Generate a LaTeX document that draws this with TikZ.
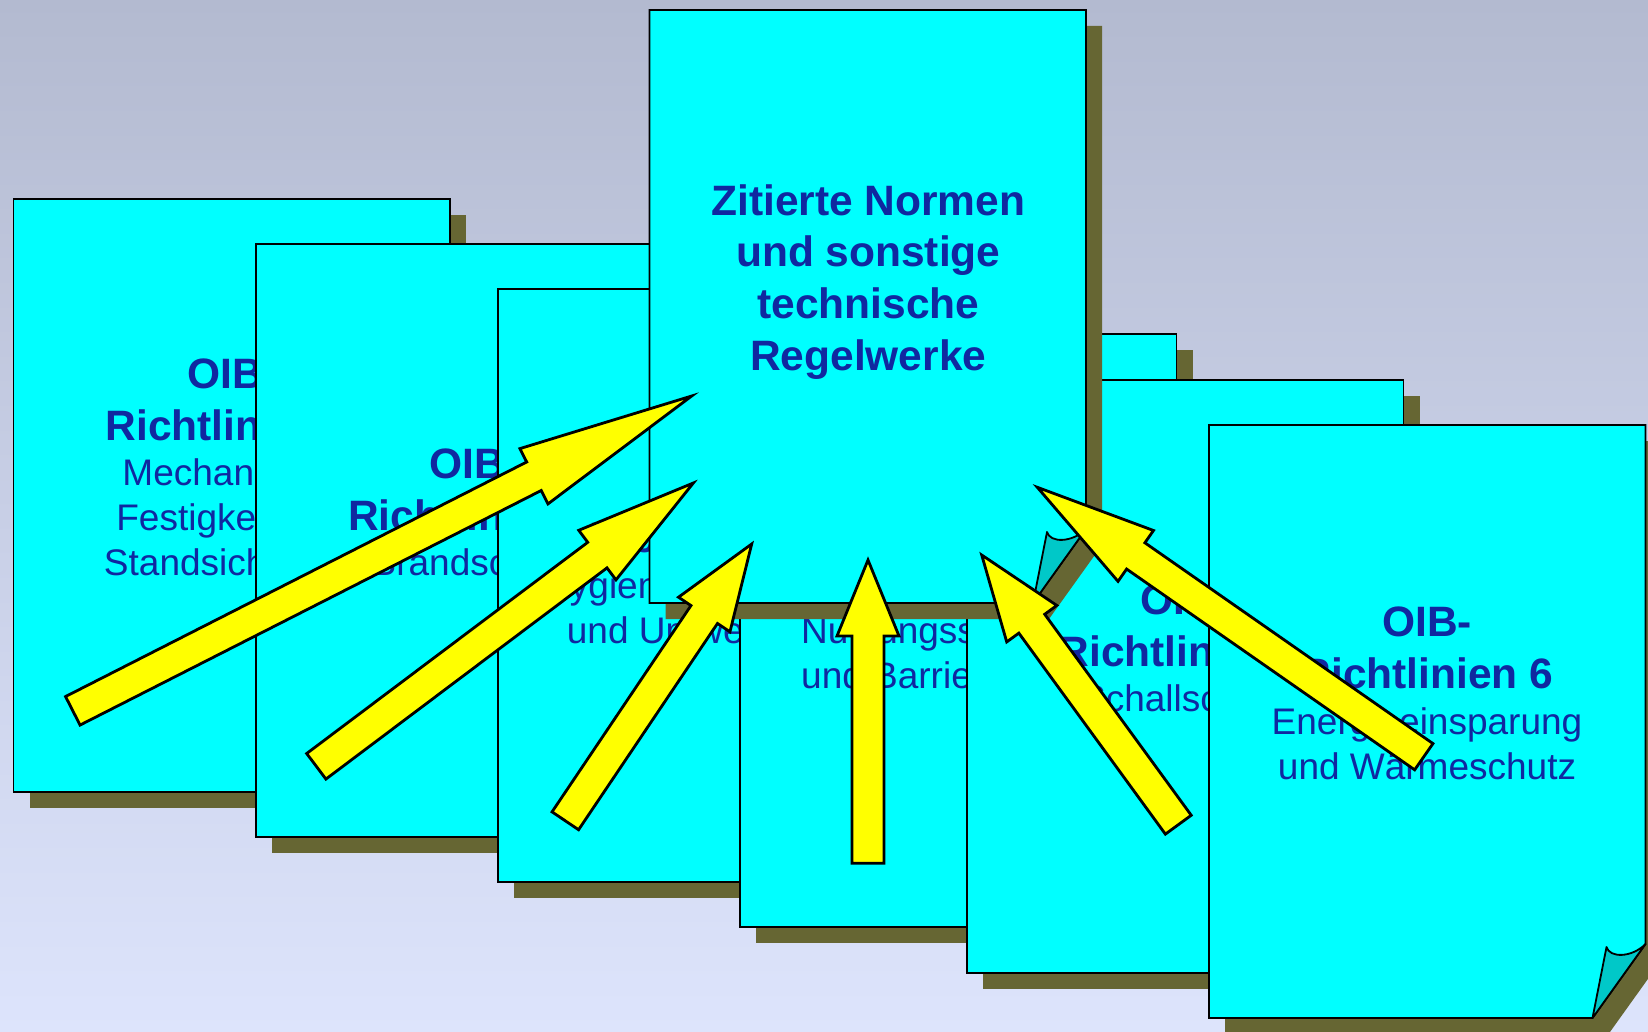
\documentclass[tikz,border=0pt]{standalone}
\usepackage{fontspec}
\setmainfont{Liberation Sans}
\usetikzlibrary{calc}
\definecolor{bgtop}{RGB}{179,186,208}
\definecolor{bgbot}{RGB}{221,228,252}
\definecolor{pagecyan}{RGB}{0,255,255}
\definecolor{flapcyan}{RGB}{0,200,200}
\definecolor{shadowolive}{RGB}{102,102,51}
\definecolor{txtblue}{RGB}{16,40,160}
\definecolor{arrowyellow}{RGB}{255,255,0}
\tikzset{
 pagebox/.style={draw=black, line width=1.8pt, fill=pagecyan, line join=miter},
 pageshadow/.style={fill=shadowolive},
 flapbox/.style={draw=black, line width=1.8pt, fill=flapcyan, line join=round},
 arrowbox/.style={draw=black, line width=2.8pt, fill=arrowyellow, line join=miter, miter limit=20},
 headtxt/.style={font=\fontsize{42.5}{52}\selectfont\bfseries, text=txtblue, inner sep=0pt, anchor=base},
 subtxt/.style={font=\fontsize{37}{45}\selectfont, text=txtblue, inner sep=0pt, anchor=base},
}
\newcommand\plainpage[1]{%
  \fill[pageshadow] ($(#1)+(16,16)$) rectangle ++(436.5,593);
  \draw[pagebox] (#1) rectangle ++(436.5,593);
}
\newcommand\curlpage[1]{%
  \fill[pageshadow] ($(#1)+(16,16)$) -- ++(436.5,0) -- ++(0,519) -- ++(-53,74) -- ++(-383.5,0) -- cycle;
  \draw[pagebox] (#1) -- ++(436.5,0) -- ++(0,519) -- ++(-53,74) -- ++(-383.5,0) -- cycle;
  \draw[flapbox] ($(#1)+(383.5,593)$) -- ($(#1)+(397.5,522)$) .. controls ($(#1)+(400.5,533)$) and ($(#1)+(422.5,533)$) .. ($(#1)+(436.5,519)$) -- cycle;
}
\newcommand\oibarrow[2]{%
  \coordinate (#1h) at ($(#1p)!#2pt!(#1t)$);
  \draw[arrowbox] ($(#1t)!16pt!90:(#1p)$) -- ($(#1h)!16pt!90:(#1p)$) -- ($(#1h)!31pt!90:(#1p)$) -- (#1p)
    -- ($(#1h)!31pt!-90:(#1p)$) -- ($(#1h)!16pt!-90:(#1p)$) -- ($(#1t)!16pt!-90:(#1p)$) -- cycle;
}
\begin{document}
\begin{tikzpicture}[x=1pt,y=-1pt]
\useasboundingbox (0,0) rectangle (1648,1032);
\shade[top color=bgtop, bottom color=bgbot] (0,0) rectangle (1648,1032);

% page 1
\coordinate (pg1) at (13.5,199);
\plainpage{pg1}
\node[headtxt] (p1a) at (232,388.3) {OIB-};
\node[headtxt] (p1b) at (232,440) {Richtlinien 1};
\node[subtxt] (p1c) at (231.5,485.7) {Mechanische};
\node[subtxt] (p1d) at (231.5,530.7) {Festigkeit und};
\node[subtxt] (p1e) at (231.5,575.7) {Standsicherheit};

% page 2
\coordinate (pg2) at (256,244);
\plainpage{pg2}
\node[headtxt] (p2a) at (474.5,478.3) {OIB-};
\node[headtxt] (p2b) at (474.5,530) {Richtlinien 2};
\node[subtxt] (p2c) at (474.5,575.7) {Brandschutz};

% page 3
\coordinate (pg3) at (498,289);
\plainpage{pg3}
\node[headtxt] (p3a) at (716,500.8) {OIB-};
\node[headtxt] (p3b) at (716,552.5) {Richtlinien 3};
\node[subtxt] (p3c) at (716,598.2) {Hygiene, Gesundheit};
\node[subtxt] (p3d) at (718,643.2) {und Umweltschutz};

% page 4
\coordinate (pg4) at (740,334);
\plainpage{pg4}
\node[headtxt] (p4a) at (958.5,545.8) {OIB-};
\node[headtxt] (p4b) at (958.5,597.5) {Richtlinien 4};
\node[subtxt] (p4c) at (958.5,643.2) {Nutzungssicherheit};
\node[subtxt] (p4d) at (958.5,688.2) {und Barrierefreiheit};

% page 5
\coordinate (pg5) at (967,380);
\plainpage{pg5}
\node[headtxt] (p5a) at (1185,614.3) {OIB-};
\node[headtxt] (p5b) at (1185,666) {Richtlinien 5};
\node[subtxt] (p5c) at (1185,711.7) {Schallschutz};

% page 6
\coordinate (pg6) at (1209,425);
\curlpage{pg6}
\node[headtxt] (p6a) at (1427,636.8) {OIB-};
\node[headtxt] (p6b) at (1427,688.5) {Richtlinien 6};
\node[subtxt] (p6c) at (1427,734.2) {Energieeinsparung};
\node[subtxt] (p6d) at (1427,779.2) {und Wärmeschutz};

% cited standards page
\coordinate (pgz) at (649.5,10);
\curlpage{pgz}
\node[headtxt] (pza) at (868.3,215.1) {Zitierte Normen};
\node[headtxt] (pzb) at (868.3,266.8) {und sonstige};
\node[headtxt] (pzc) at (868.3,318.5) {technische};
\node[headtxt] (pzd) at (868.3,370.2) {Regelwerke};

% arrows
\coordinate (a1t) at (72.8,710.8);   \coordinate (a1p) at (691.7,396);
\coordinate (a2t) at (316.3,766.3);  \coordinate (a2p) at (693.3,483);
\coordinate (a3t) at (565.3,820.8);  \coordinate (a3p) at (751.7,544);
\coordinate (a4t) at (868,863.3);    \coordinate (a4p) at (868,560);
\coordinate (a5t) at (1178.3,824.7); \coordinate (a5p) at (981.7,555);
\coordinate (a6t) at (1423.8,756.7); \coordinate (a6p) at (1037.3,487.3);
\oibarrow{a1}{177}
\oibarrow{a2}{120}
\oibarrow{a3}{85}
\oibarrow{a4}{76}
\oibarrow{a5}{85}
\oibarrow{a6}{120}
\end{tikzpicture}
\end{document}
